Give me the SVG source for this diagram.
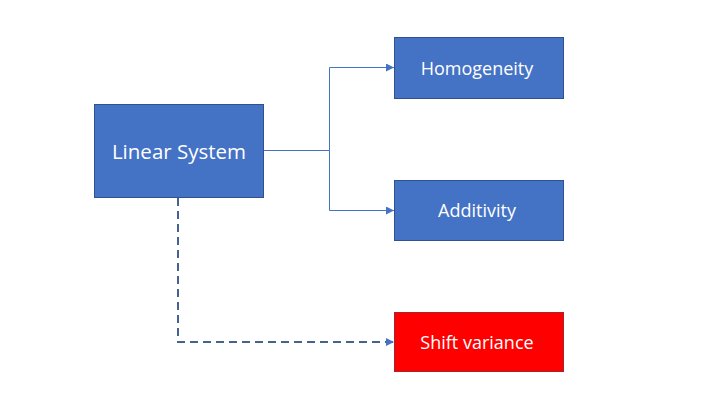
<svg xmlns="http://www.w3.org/2000/svg" width="719" height="405" viewBox="0 0 719 405">
<defs>
<style>
.box{fill:#4472C4;stroke:#2F528F;stroke-width:1}
.red{fill:#FF0000;stroke:#A0262E;stroke-width:1}
.t{fill:#FFFFFF;font-family:"Open Sans","Noto Sans",sans-serif;text-anchor:middle;dominant-baseline:central}
.conn{fill:none;stroke:#4472C4;stroke-width:1}
.dash{fill:none;stroke:#44648F;stroke-width:2;stroke-dasharray:8 5}
</style>
<marker id="ah" viewBox="0 0 10 10" refX="10" refY="5" markerWidth="8" markerHeight="8" markerUnits="userSpaceOnUse" orient="auto">
<path d="M0,0 L10,5 L0,10 z" fill="#4472C4"/>
</marker>
</defs>
<rect width="719" height="405" fill="#FFFFFF"/>
<g id="connectors">
<path class="conn" d="M263,150.5 H329.5 V67.5 H394" marker-end="url(#ah)"/>
<path class="conn" d="M329.5,150.5 V210.5 H394" marker-end="url(#ah)"/>
<path class="dash" d="M178,198 V342 H394" marker-end="url(#ah)"/>
</g>
<g id="linear-system">
<rect class="box" x="94.5" y="104.5" width="169" height="93"/>
<text class="t" x="179" y="151" font-size="20.5">Linear System</text>
</g>
<g id="homogeneity">
<rect class="box" x="394.5" y="37.5" width="169" height="61"/>
<text class="t" x="477" y="68" font-size="18">Homogeneity</text>
</g>
<g id="additivity">
<rect class="box" x="394.5" y="180.5" width="169" height="60"/>
<text class="t" x="477" y="210" font-size="18">Additivity</text>
</g>
<g id="shift-variance">
<rect class="red" x="394.5" y="312.5" width="169" height="59"/>
<text class="t" x="477" y="342" font-size="18">Shift variance</text>
</g>
</svg>
